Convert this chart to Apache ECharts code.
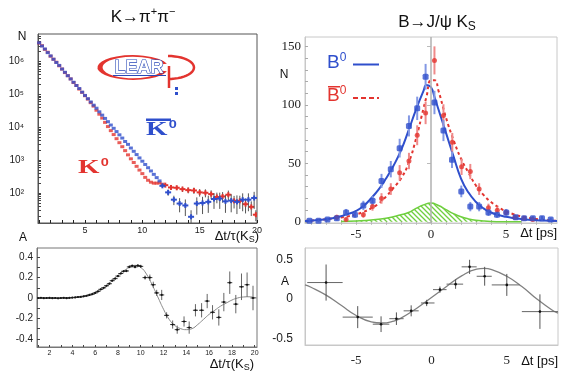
<!DOCTYPE html>
<html><head><meta charset="utf-8">
<script src="https://cdn.jsdelivr.net/npm/echarts@6/dist/echarts.min.js"></script>
<style>html,body{margin:0;padding:0;background:#fff}#c{width:571px;height:378px}</style>
</head><body><div id="c"></div><script>
// ---------- DATA ----------
// Top-left: K -> pi+ pi- decay rates (log scale)
const TL_DENSE_X = [1,1.25,1.5,1.75,2,2.25,2.5,2.75,3,3.25,3.5,3.75,4,4.25,4.5,4.75,5,5.25,5.5,5.75,6,6.25,6.5,6.75,7,7.25,7.5,7.75,8,8.25,8.5,8.75,9,9.25,9.5,9.75,10,10.25,10.5,10.75,11,11.25,11.5,11.75];
const TL_BLUE_DENSE_N = [3.7e6,2.95e6,2.4e6,1.86e6,1.48e6,1.17e6,9.3e5,7.6e5,5.9e5,4.7e5,3.7e5,2.95e5,2.34e5,1.86e5,1.51e5,1.17e5,9.3e4,7.4e4,5.9e4,4.7e4,3.8e4,2.95e4,2.34e4,1.86e4,1.48e4,1.17e4,9300,7400,5900,4700,3700,3020,2340,1860,1480,1170,930,740,590,470,370,295,234];
const TL_RED_DENSE_N = [3.63e6,3.02e6,2.34e6,1.91e6,1.45e6,1.17e6,9.5e5,7.4e5,5.9e5,4.6e5,3.7e5,2.95e5,2.29e5,1.86e5,1.45e5,1.15e5,9.1e4,7.2e4,5.6e4,4.4e4,3.3e4,2.5e4,1.9e4,1.41e4,1.05e4,7900,6000,4500,3400,2570,1950,1450,1100,850,650,500,390,300,245,214,200,200,204,186];
const TL_BLUE_TAIL_X = [11.75,12.25,12.75,13.25,13.75,14.25,14.75,15.25,15.75,16.25,16.75,17.25,17.75,18.25,18.75,19.25,19.75];
const TL_BLUE_TAIL_N = [166,105,63,48,42,19,48,50,54,66,68,56,59,54,63,63,71];
const TL_BLUE_TAIL_ERR = [20,22,20,22,22,11,26,27,29,33,35,31,33,31,35,35,38];
const TL_RED_TAIL_X = [12.0,12.5,13.0,13.5,14.0,14.5,15.0,15.5,16.0,16.5,17.0,17.5,18.0,18.5,19.0,19.5,19.9];
const TL_RED_TAIL_N = [174,148,145,132,123,120,105,102,93,76,79,89,58,58,46,38,22];
const TL_RED_TAIL_ERR = [18,20,22,24,25,26,27,28,28,27,28,30,24,25,22,18,8];
const TL_Y_LABELS = [1e2,1e3,1e4,1e5,1e6];
const TL_X_LABELS = [5,10,15,20];

// Top-right: B -> J/psi Ks
const TR_BLUE_X = [-8.1,-7.5,-6.9,-6.28,-5.66,-5.07,-4.51,-3.9,-3.3,-2.68,-2.09,-1.47,-0.92,-0.36,0.23,0.83,1.4,2.02,2.62,3.21,3.83,4.4,5.02,5.64,6.21,6.79,7.4,7.98];
const TR_BLUE_N = [1,1,2,3,8,6,14,18,35,45,63,82,97,124,102,78,53,26,13,13,8,6,8,4,3,3,3,2];
const TR_BLUE_ERR = [1,1,1.5,2,3,2.5,4,4,6,7,8,9,10,11,10,9,7,5,4,4,3,2.5,3,2,2,2,2,1.5];
const TR_RED_X = [-6.28,-5.66,-4.51,-3.9,-3.3,-2.68,-2.09,-1.47,-0.92,-0.36,0.23,0.83,1.42,2.04,2.62,3.21,3.83,4.42,5.0,5.6,6.2,6.78];
const TR_RED_N = [4,2,6,13,20,28,42,52,74,93,138,91,68,47,43,28,12,10,8,4,3,2];
const TR_RED_ERR = [2,1.5,2.5,3.5,4.5,5,6.5,7,8.5,9.5,12,9.5,8,7,6.5,5,3.5,3,3,2,1.5,1.5];
const TR_FIT_X = [-8.4,-8,-7.5,-7,-6.5,-6,-5.5,-5,-4.5,-4,-3.5,-3,-2.5,-2,-1.5,-1,-0.5,-0.3,0,0.25,0.5,1,1.5,2,2.5,3,3.5,4,4.5,5,5.5,6,6.5,7,7.5,8,8.4];
const TR_BLUE_FIT = [0.8,1,1.6,2.2,3.3,4.8,6.8,9.3,13.5,20,27.5,37,48,61,78,96,112,117,115,106,96,76,56,37,25,17,11.5,8,5.8,4.3,3.2,2.4,1.8,1.4,1.1,0.9,0.8];
const TR_RED_FIT = [0.8,1,1.7,2.2,3,3.8,4.7,6.3,8.5,11.5,15.5,21.5,29,37,50,71,97,107,121,121,112,89,70,54,42,31,23,17,12.5,9,6.5,4.7,3.4,2.5,1.7,1.1,0.9];
const TR_BKG_X = [-6,-5,-4,-3,-2,-1.5,-1,-0.5,0,0.5,1,1.5,2,2.5,3,3.5,4,5,6];
const TR_BKG_N = [0.3,0.8,1.6,3,6,8,11.5,14.5,16,14,10.5,7,4.3,2.5,1.3,0.7,0.35,0.1,0];
const TR_Y_LABELS = [0,50,100,150];
const TR_X_LABELS = [-5,0,5];

// Bottom-left: asymmetry K
const BL_X = [1,1.25,1.5,1.75,2,2.25,2.5,2.75,3,3.25,3.5,3.75,4,4.25,4.5,4.75,5,5.25,5.5,5.75,6,6.25,6.5,6.75,7,7.25,7.5,7.75,8,8.25,8.5,8.75,9,9.25,9.5,9.75,10,10.38,10.8,11.1,11.4,11.84,12.27,12.8,13.2,13.8,14.25,14.8,15.34,15.83,16.3,16.85,17.29,17.81,18.34,18.84,19.33,19.85];
const BL_A = [0,0.002,-0.002,0,0.001,-0.002,0,-0.003,0,0.002,-0.002,0.002,0.004,0.006,0.01,0.012,0.017,0.022,0.03,0.038,0.05,0.065,0.085,0.1,0.12,0.14,0.17,0.19,0.215,0.24,0.262,0.265,0.305,0.315,0.305,0.318,0.31,0.2,0.2,0.13,0.05,0.03,-0.17,-0.26,-0.31,-0.23,-0.29,-0.12,-0.12,-0.03,-0.14,-0.19,-0.04,0.15,-0.06,0.11,0.13,0];
const BL_ERR = [0.004,0.004,0.004,0.004,0.004,0.004,0.004,0.004,0.004,0.004,0.004,0.004,0.005,0.005,0.005,0.005,0.005,0.006,0.006,0.006,0.007,0.007,0.008,0.008,0.009,0.009,0.01,0.01,0.011,0.011,0.012,0.012,0.013,0.014,0.015,0.015,0.016,0.02,0.03,0.03,0.03,0.05,0.03,0.04,0.04,0.05,0.06,0.06,0.07,0.07,0.07,0.08,0.09,0.11,0.09,0.13,0.12,0.12];
const BL_FIT_X = [0.9,2,3,4,5,6,6.5,7,7.5,8,8.5,9,9.5,10,10.5,11,11.5,12,12.5,13,13.5,14,14.5,15,15.5,16,16.5,17,17.5,18,18.5,19,19.5,20,20.2];
const BL_FIT_A = [0,0,0,0.003,0.015,0.048,0.08,0.12,0.17,0.22,0.265,0.3,0.32,0.3,0.235,0.13,0.01,-0.11,-0.21,-0.27,-0.3,-0.31,-0.3,-0.26,-0.21,-0.16,-0.12,-0.08,-0.05,-0.02,0,0.01,0.012,0.005,0];
const BL_Y_LABELS = [-0.4,-0.2,0,0.2,0.4];
const BL_X_LABELS = [2,4,6,8,10,12,14,16,18,20];

// Bottom-right: asymmetry B
const BR_X = [-7.0,-4.9,-3.35,-2.33,-1.35,-0.32,0.56,1.6,2.53,3.53,5.0,7.2];
const BR_A = [0.21,-0.23,-0.32,-0.25,-0.15,-0.05,0.12,0.19,0.41,0.29,0.18,-0.16];
const BR_AERR = [0.23,0.14,0.1,0.08,0.07,0.04,0.04,0.06,0.09,0.12,0.14,0.22];
const BR_XLO = [-8.25,-5.9,-3.9,-2.8,-1.85,-0.7,0.1,1.0,2.0,3.0,4.0,6.0];
const BR_XHI = [-5.9,-3.9,-2.8,-1.85,-0.85,0.2,1.0,2.1,3.0,4.0,5.85,8.4];
const BR_FIT_X = [-8.4,-8,-7,-6,-5,-4,-3.3,-2.5,-2,-1,0,1,2,3,3.5,4,5,6,7,8,8.4];
const BR_FIT_A = [0.18,0.15,0.05,-0.08,-0.21,-0.29,-0.305,-0.28,-0.24,-0.12,0.02,0.16,0.295,0.38,0.39,0.375,0.29,0.16,0,-0.14,-0.18];
const BR_Y_LABELS = [-0.5,0,0.5];
const BR_X_LABELS = [-5,0,5];

// ---------- STYLE ----------
const SANS = "'Liberation Sans', Arial, sans-serif";
const SERIF = "'Liberation Serif', 'Times New Roman', serif";
const BLUE = '#2f4fcc', RED = '#e3342f', GREEN = '#6fcf3f';

function range(a, b, s) { const r = []; for (let v = a; v <= b + 1e-9; v += s) r.push(Math.round(v * 1000) / 1000); return r; }
const logMinor = [];
[10, 100, 1000, 1e4, 1e5, 1e6].forEach(d => { for (let k = 1; k <= 9; k++) logMinor.push(k * d); });

const hatch = document.createElement('canvas');
hatch.width = 5; hatch.height = 5;
(function () {
  const g = hatch.getContext('2d');
  g.fillStyle = '#ffffff'; g.fillRect(0, 0, 5, 5);
  g.strokeStyle = GREEN; g.lineWidth = 1.3;
  g.beginPath(); g.moveTo(-1, -1); g.lineTo(6, 6); g.moveTo(-1, 4); g.lineTo(1, 6); g.moveTo(4, -1); g.lineTo(6, 1); g.stroke();
})();

// logo outline: half-ellipse bowl of the "P" (decoration only)
const bowlPts = [];
for (let k = 0; k <= 24; k++) { const t = -Math.PI / 2 + Math.PI * k / 24; bowlPts.push([168 + 26 * Math.cos(t), 67.5 + 11.5 * Math.sin(t)]); }

const sup = {'0':'⁰','1':'¹','2':'²','3':'³','4':'⁴','5':'⁵','6':'⁶','7':'⁷','8':'⁸','9':'⁹'};

function tailRender(color) {
  return function (params, api) {
    const x = api.value(0), y = api.value(1), e = api.value(2);
    const c = api.coord([x, y]);
    const t = api.coord([x, y + e]);
    const b = api.coord([x, Math.max(y - e, 1)]);
    return {type: 'group', children: [
      {type: 'line', shape: {x1: c[0], y1: t[1], x2: c[0], y2: b[1]}, style: {stroke: '#555', lineWidth: 1}},
      {type: 'line', shape: {x1: c[0] - 3, y1: c[1], x2: c[0] + 3, y2: c[1]}, style: {stroke: color, lineWidth: 2}},
      {type: 'line', shape: {x1: c[0], y1: c[1] - 2.5, x2: c[0], y2: c[1] + 2.5}, style: {stroke: color, lineWidth: 2}}
    ]};
  };
}
function vErrRender(color, w) {
  return function (params, api) {
    const x = api.value(0), y = api.value(1), e = api.value(2);
    const t = api.coord([x, y + e]), b = api.coord([x, y - e]);
    return {type: 'line', shape: {x1: t[0], y1: t[1], x2: b[0], y2: b[1]}, style: {stroke: color, lineWidth: w}};
  };
}
function blRender(params, api) {
  const x = api.value(0), y = api.value(1), e = api.value(2);
  const c = api.coord([x, y]), t = api.coord([x, y + e]), b = api.coord([x, y - e]);
  return {type: 'group', children: [
    {type: 'line', shape: {x1: c[0], y1: t[1], x2: c[0], y2: b[1]}, style: {stroke: '#666', lineWidth: 1}},
    {type: 'line', shape: {x1: c[0] - 2.5, y1: c[1], x2: c[0] + 2.5, y2: c[1]}, style: {stroke: '#333', lineWidth: 1}},
    {type: 'circle', shape: {cx: c[0], cy: c[1], r: 1.1}, style: {fill: '#111'}}
  ]};
}
function brRender(params, api) {
  const x = api.value(0), y = api.value(1), e = api.value(2), xl = api.value(3), xh = api.value(4);
  const c = api.coord([x, y]), t = api.coord([x, y + e]), b = api.coord([x, y - e]);
  const l = api.coord([xl, y]), r = api.coord([xh, y]);
  return {type: 'group', children: [
    {type: 'line', shape: {x1: c[0], y1: t[1], x2: c[0], y2: b[1]}, style: {stroke: '#555', lineWidth: 1}},
    {type: 'line', shape: {x1: l[0], y1: c[1], x2: r[0], y2: c[1]}, style: {stroke: '#666', lineWidth: 1}},
    {type: 'circle', shape: {cx: c[0], cy: c[1], r: 1.3}, style: {fill: '#111'}}
  ]};
}

const zip = (xs, ys) => xs.map((x, i) => [x, ys[i]]);
const zip3 = (xs, ys, es) => xs.map((x, i) => [x, ys[i], es[i]]);

function txt(x, y, text, opt) {
  return {type: 'text', z: 100, style: Object.assign({
    x: x, y: y, text: text, fontFamily: SANS, fontSize: 13, fill: '#111',
    align: 'left', textAlign: 'left', verticalAlign: 'middle', textVerticalAlign: 'middle'
  }, opt || {})};
}
function kLabel(x, y, color) {
  return {type: 'group', x: x, y: y, scaleX: 1.45, z: 100, children: [
    txt(0, 0, '{k|K}{g| }{z|0}', {rich: {
      k: {fontSize: 19, fontFamily: SERIF, fontWeight: 'bold', fill: color, lineHeight: 20},
      g: {fontSize: 3, lineHeight: 20},
      z: {fontSize: 10, fontFamily: SANS, fontWeight: 'bold', fill: color, lineHeight: 12, verticalAlign: 'top'}}})
  ]};
}

const option = {
  animation: false,
  backgroundColor: '#fff',
  grid: [
    {left: 38, top: 34, width: 219, height: 189, show: true, borderColor: '#555', borderWidth: 1, containLabel: false, outerBoundsMode: 'none'},
    {left: 305, top: 37, width: 252, height: 186, show: true, borderColor: '#c8c8c8', borderWidth: 1, containLabel: false, outerBoundsMode: 'none'},
    {left: 37, top: 248, width: 220, height: 99, show: true, borderColor: '#777', borderWidth: 1, containLabel: false, outerBoundsMode: 'none'},
    {left: 305, top: 248, width: 253, height: 97, show: true, borderColor: '#c8c8c8', borderWidth: 1, containLabel: false, outerBoundsMode: 'none'}
  ],
  xAxis: [
    {gridIndex: 0, type: 'value', min: 0.9, max: 20,
      axisLine: {show: true, onZero: false, lineStyle: {color: '#555'}},
      axisTick: {show: true, inside: true, length: 3, customValues: range(1, 20, 1), lineStyle: {color: '#222'}},
      axisLabel: {customValues: TL_X_LABELS, fontSize: 9, color: '#222', margin: 3, fontFamily: SANS},
      splitLine: {show: false}},
    {gridIndex: 1, type: 'value', min: -8.4, max: 8.4,
      axisLine: {show: true, onZero: false, lineStyle: {color: '#c8c8c8'}},
      axisTick: {show: true, inside: true, length: 3, customValues: range(-8, 8, 1), lineStyle: {color: '#aaa'}},
      axisLabel: {customValues: TR_X_LABELS, fontSize: 13, color: '#222', margin: 5, fontFamily: SERIF},
      splitLine: {show: false}},
    {gridIndex: 1, type: 'value', min: -8.4, max: 8.4, position: 'top',
      axisLine: {show: false},
      axisTick: {show: true, inside: true, length: 3, customValues: range(-8, 8, 1), lineStyle: {color: '#bbb'}},
      axisLabel: {show: false}, splitLine: {show: false}},
    {gridIndex: 2, type: 'value', min: 0.9, max: 20.2,
      axisLine: {show: true, onZero: false, lineStyle: {color: '#777'}},
      axisTick: {show: true, inside: true, length: 2, customValues: range(1, 20, 1), lineStyle: {color: '#444'}},
      axisLabel: {customValues: BL_X_LABELS, fontSize: 7, color: '#222', margin: 3, fontFamily: SANS},
      splitLine: {show: false}},
    {gridIndex: 3, type: 'value', min: -8.4, max: 8.4,
      axisLine: {show: true, onZero: false, lineStyle: {color: '#c8c8c8'}},
      axisTick: {show: false},
      axisLabel: {customValues: BR_X_LABELS, fontSize: 13, color: '#222', margin: 9, fontFamily: SERIF},
      splitLine: {show: false}}
  ],
  yAxis: [
    {gridIndex: 0, type: 'log', logBase: 10, min: 12.3, max: 6.85e6,
      axisLine: {show: true, onZero: false, lineStyle: {color: '#555'}},
      axisTick: {show: true, inside: true, length: 3, customValues: logMinor, lineStyle: {color: '#444'}},
      axisLabel: {customValues: TL_Y_LABELS, fontSize: 10, color: '#222', margin: 14, fontFamily: SANS,
        formatter: v => '10' + String(Math.round(Math.log10(v))).split('').map(d => sup[d]).join('')},
      splitLine: {show: false}, minorTick: {show: false}},
    {gridIndex: 1, type: 'value', min: -1, max: 158,
      axisLine: {show: true, onZero: false, lineStyle: {color: '#c8c8c8'}},
      axisTick: {show: true, inside: true, length: 3, customValues: range(0, 150, 10), lineStyle: {color: '#aaa'}},
      axisLabel: {customValues: TR_Y_LABELS, fontSize: 13, color: '#222', margin: 4, fontFamily: SERIF},
      splitLine: {show: false}},
    {gridIndex: 1, type: 'value', min: -1, max: 158, position: 'right',
      axisLine: {show: false},
      axisTick: {show: true, inside: true, length: 4, customValues: range(0, 150, 50), lineStyle: {color: '#bbb'}},
      axisLabel: {show: false}, splitLine: {show: false}},
    {gridIndex: 2, type: 'value', min: -0.48, max: 0.49,
      axisLine: {show: true, onZero: false, lineStyle: {color: '#777'}},
      axisTick: {show: true, inside: true, length: 3, customValues: range(-0.4, 0.4, 0.1), lineStyle: {color: '#444'}},
      axisLabel: {customValues: BL_Y_LABELS, fontSize: 10, color: '#222', margin: 4, fontFamily: SANS},
      splitLine: {show: false}},
    {gridIndex: 3, type: 'value', min: -0.585, max: 0.65,
      axisLine: {show: true, onZero: false, lineStyle: {color: '#c8c8c8'}},
      axisTick: {show: false},
      axisLabel: {customValues: BR_Y_LABELS, fontSize: 12, color: '#222', margin: 12, fontFamily: SANS},
      splitLine: {show: false}}
  ],
  series: [
    // ---- top-left
    {type: 'scatter', xAxisIndex: 0, yAxisIndex: 0, data: zip(TL_DENSE_X, TL_RED_DENSE_N), symbol: 'rect', symbolSize: [4, 3], itemStyle: {color: RED}, z: 3},
    {type: 'scatter', xAxisIndex: 0, yAxisIndex: 0, data: zip(TL_DENSE_X.slice(0, TL_BLUE_DENSE_N.length), TL_BLUE_DENSE_N), symbol: 'rect', symbolSize: [4, 3], itemStyle: {color: BLUE}, z: 4},
    {type: 'custom', xAxisIndex: 0, yAxisIndex: 0, clip: true, renderItem: tailRender(RED), data: zip3(TL_RED_TAIL_X, TL_RED_TAIL_N, TL_RED_TAIL_ERR), z: 3},
    {type: 'custom', xAxisIndex: 0, yAxisIndex: 0, clip: true, renderItem: tailRender(BLUE), data: zip3(TL_BLUE_TAIL_X, TL_BLUE_TAIL_N, TL_BLUE_TAIL_ERR), z: 4},
    // ---- top-right
    {type: 'line', xAxisIndex: 1, yAxisIndex: 1, data: zip(TR_BKG_X, TR_BKG_N), smooth: true, symbol: 'none',
      lineStyle: {color: GREEN, width: 1.5}, areaStyle: {color: {image: hatch, repeat: 'repeat'}, opacity: 1}, z: 2,
      markLine: {silent: true, symbol: 'none', label: {show: false}, lineStyle: {color: '#b0b0b0', width: 1.5, type: 'solid'}, data: [{xAxis: 0}]}},
    {type: 'line', xAxisIndex: 1, yAxisIndex: 1, data: zip(TR_FIT_X, TR_RED_FIT), smooth: true, symbol: 'none', lineStyle: {color: RED, width: 2, type: [3, 3]}, z: 3},
    {type: 'line', xAxisIndex: 1, yAxisIndex: 1, data: zip(TR_FIT_X, TR_BLUE_FIT), smooth: true, symbol: 'none', lineStyle: {color: BLUE, width: 2}, z: 4},
    {type: 'custom', xAxisIndex: 1, yAxisIndex: 1, renderItem: vErrRender('#ef8a8a', 2), data: zip3(TR_RED_X, TR_RED_N, TR_RED_ERR), z: 5},
    {type: 'custom', xAxisIndex: 1, yAxisIndex: 1, renderItem: vErrRender('#8398e4', 2), data: zip3(TR_BLUE_X, TR_BLUE_N, TR_BLUE_ERR), z: 5},
    {type: 'scatter', xAxisIndex: 1, yAxisIndex: 1, data: zip(TR_RED_X, TR_RED_N), symbol: 'circle', symbolSize: 5, itemStyle: {color: RED}, z: 6},
    {type: 'scatter', xAxisIndex: 1, yAxisIndex: 1, data: zip(TR_BLUE_X, TR_BLUE_N), symbol: 'roundRect', symbolSize: 6, itemStyle: {color: BLUE}, z: 6},
    // ---- bottom-left
    {type: 'line', xAxisIndex: 3, yAxisIndex: 3, data: zip(BL_FIT_X, BL_FIT_A), smooth: true, symbol: 'none', lineStyle: {color: '#8a8a8a', width: 1}, z: 2},
    {type: 'custom', xAxisIndex: 3, yAxisIndex: 3, clip: true, renderItem: blRender, data: zip3(BL_X, BL_A, BL_ERR), z: 3},
    // ---- bottom-right
    {type: 'line', xAxisIndex: 4, yAxisIndex: 4, data: zip(BR_FIT_X, BR_FIT_A), smooth: true, symbol: 'none', lineStyle: {color: '#808080', width: 1.3}, z: 2},
    {type: 'custom', xAxisIndex: 4, yAxisIndex: 4, clip: true, renderItem: brRender, data: BR_X.map((x, i) => [x, BR_A[i], BR_AERR[i], BR_XLO[i], BR_XHI[i]]), z: 3}
  ],
  graphic: [
    // titles
    txt(143, 17, '{a|K→π}{p|+}{a|π}{p|−}', {align: 'center', textAlign: 'center',
      rich: {a: {fontSize: 17, fontFamily: SANS, fill: '#111', lineHeight: 22}, p: {fontSize: 11, fontFamily: SANS, fill: '#111', lineHeight: 12, verticalAlign: 'top'}}}),
    txt(437, 22, '{a|B→J/ψ K}{s|S}', {align: 'center', textAlign: 'center',
      rich: {a: {fontSize: 17, fontFamily: SANS, fill: '#111', lineHeight: 22}, s: {fontSize: 12, fontFamily: SANS, fill: '#111', lineHeight: 14, verticalAlign: 'bottom'}}}),
    // axis names
    txt(22, 37, 'N', {align: 'center', textAlign: 'center', fontSize: 12}),
    txt(23, 238, 'A', {align: 'center', textAlign: 'center', fontSize: 12}),
    txt(284, 75, 'N', {align: 'center', textAlign: 'center', fontSize: 12}),
    txt(285, 282, 'A', {align: 'center', textAlign: 'center', fontSize: 12}),
    txt(259, 236, '{a|Δt/τ(K}{s|S}{a|)}', {align: 'right', textAlign: 'right',
      rich: {a: {fontSize: 13, fontFamily: SANS, fill: '#111', lineHeight: 16}, s: {fontSize: 9, fontFamily: SANS, fill: '#111', lineHeight: 10, verticalAlign: 'bottom'}}}),
    txt(254, 364, '{a|Δt/τ(K}{s|S}{a|)}', {align: 'right', textAlign: 'right',
      rich: {a: {fontSize: 13, fontFamily: SANS, fill: '#111', lineHeight: 16}, s: {fontSize: 9, fontFamily: SANS, fill: '#111', lineHeight: 10, verticalAlign: 'bottom'}}}),
    txt(557, 233, 'Δt [ps]', {align: 'right', textAlign: 'right', fontSize: 13}),
    txt(558, 361, 'Δt [ps]', {align: 'right', textAlign: 'right', fontSize: 13}),
    // K labels
    kLabel(146, 130, BLUE),
    {type: 'rect', z: 110, shape: {x: 146, y: 118.5, width: 25, height: 2.5}, style: {fill: BLUE}},
    kLabel(78, 168, RED),
    // B legend
    txt(327, 63, '{b|B}{z|0}', {rich: {b: {fontSize: 19, fontFamily: SANS, fill: BLUE, lineHeight: 22}, z: {fontSize: 12, fontFamily: SANS, fill: BLUE, lineHeight: 13, verticalAlign: 'top'}}}),
    {type: 'line', z: 100, shape: {x1: 353, y1: 64.5, x2: 379, y2: 64.5}, style: {stroke: BLUE, lineWidth: 2}},
    txt(327, 96, '{b|B}{z|0}', {rich: {b: {fontSize: 19, fontFamily: SANS, fill: RED, lineHeight: 22}, z: {fontSize: 12, fontFamily: SANS, fill: RED, lineHeight: 13, verticalAlign: 'top'}}}),
    {type: 'rect', z: 100, shape: {x: 328, y: 86, width: 12, height: 1.5}, style: {fill: RED}},
    {type: 'line', z: 100, shape: {x1: 353, y1: 98, x2: 379, y2: 98}, style: {stroke: RED, lineWidth: 2, lineDash: [5, 3]}},
    // CPLEAR logo
    {type: 'group', x: 133, y: 67.5, scaleY: 11.5 / 33, z: 100, children: [
      {type: 'arc', shape: {cx: 0, cy: 0, r: 33, startAngle: 0.3, endAngle: Math.PI * 2 - 0.3}, style: {stroke: RED, lineWidth: 5, fill: null}}
    ]},
    {type: 'polyline', z: 100, shape: {points: bowlPts}, style: {stroke: RED, lineWidth: 2.5, fill: null}},
    {type: 'line', z: 100, shape: {x1: 169, y1: 66, x2: 169, y2: 88}, style: {stroke: RED, lineWidth: 2.5}},
    {type: 'rect', z: 100, shape: {x: 175, y: 87, width: 3, height: 3}, style: {fill: BLUE}},
    {type: 'rect', z: 100, shape: {x: 175, y: 92, width: 3, height: 3}, style: {fill: BLUE}},
    txt(139, 68, 'LEAR', {align: 'center', textAlign: 'center', fontSize: 18, fontWeight: 'bold', fontFamily: SANS, fill: '#ffffff', stroke: '#2a48b8', lineWidth: 1.2}),
    {type: 'line', z: 100, shape: {x1: 113, y1: 75.5, x2: 166, y2: 75.5}, style: {stroke: '#2a48b8', lineWidth: 1}}
  ]
};

const chart = echarts.init(document.getElementById('c'), null, {renderer: 'canvas'});
chart.setOption(option);
</script></body></html>
